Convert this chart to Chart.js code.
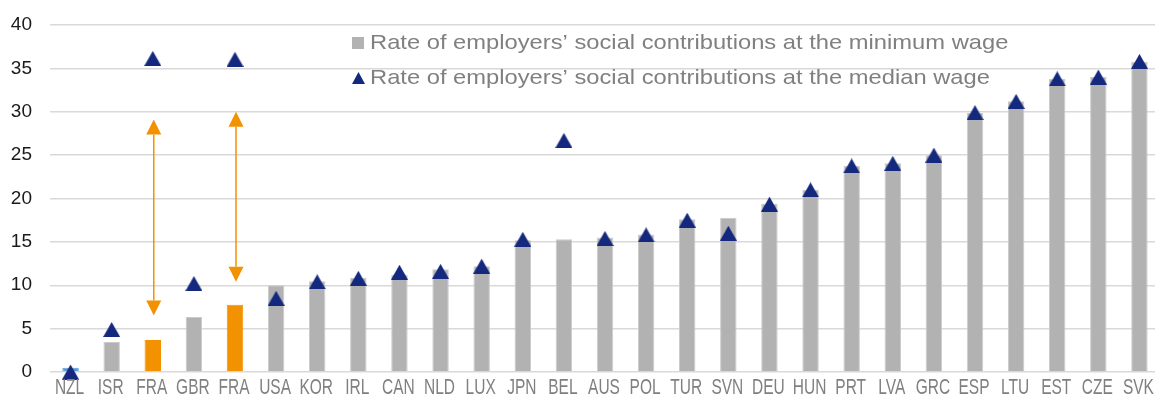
<!DOCTYPE html>
<html>
<head>
<meta charset="utf-8">
<script src="https://cdn.jsdelivr.net/npm/chart.js@4/dist/chart.umd.min.js"></script>
<style>
  html, body { margin: 0; padding: 0; background: #fff; overflow: hidden; }
  canvas { display: block; }
</style>
</head>
<body>
<canvas id="chart" width="1160" height="397"></canvas>
<script>
// Employers' social contributions, % of labour cost
const categories = ['NZL', 'ISR', 'FRA', 'GBR', 'FRA', 'USA', 'KOR', 'IRL', 'CAN', 'NLD', 'LUX', 'JPN', 'BEL', 'AUS',
  'POL', 'TUR', 'SVN', 'DEU', 'HUN', 'PRT', 'LVA', 'GRC', 'ESP', 'LTU', 'EST', 'CZE', 'SVK'];
const minWageRate = [0.5, 3.45, 3.7, 6.35, 7.75, 10.0, 10.45, 10.85, 11.2, 11.85, 12.2, 15.2, 15.3, 15.5,
  15.85, 17.6, 17.75, 19.4, 21.0, 23.75, 24.05, 25.0, 29.85, 31.2, 33.8, 34.0, 35.75];
const medianWageRate = [0, 4.9, 36.15, 10.2, 36.05, 8.5, 10.4, 10.8, 11.5, 11.6, 12.2, 15.3, 26.7, 15.4,
  15.8, 17.5, 16.0, 19.35, 21.0, 23.75, 24.05, 25.0, 29.9, 31.2, 33.8, 34.0, 35.8];
const yTicks = [0, 5, 10, 15, 20, 25, 30, 35, 40];
const legendLabels = [
  'Rate of employers\u2019 social contributions at the minimum wage',
  'Rate of employers\u2019 social contributions at the median wage',
];
// orange double arrows over the two French bars
const arrowIndex = [2, 4];
const arrowTop = [29.1, 30.0];
const arrowBottom = [6.5, 10.4];

// --- Colours ---
const GREY = '#b2b2b2';
const NAVY = '#14287e';
const ORANGE = '#f39200';
const BLUE = '#5b9bd5';

const barColors = categories.map((c, i) => (i === 0 ? BLUE : c === 'FRA' ? ORANGE : GREY));
const barBorders = categories.map((c, i) => (i === 0 ? BLUE : c === 'FRA' ? ORANGE : '#cbcbcb'));

function makeTriangle(color, w, h) {
  const c = document.createElement('canvas');
  c.width = w;
  c.height = h;
  const g = c.getContext('2d');
  g.fillStyle = color;
  g.beginPath();
  g.moveTo(w / 2, 0);
  g.lineTo(w, h);
  g.lineTo(0, h);
  g.closePath();
  g.fill();
  return c;
}
const triangle = makeTriangle(NAVY, 17, 15);

const overlay = {
  id: 'overlay',
  afterDatasetsDraw(chart) {
    const { ctx, scales: { x, y } } = chart;
    // arrows
    ctx.save();
    ctx.strokeStyle = ORANGE;
    ctx.fillStyle = ORANGE;
    ctx.lineWidth = 1.5;
    arrowIndex.forEach((idx, k) => {
      const px = x.getPixelForValue(idx) + 1;
      const top = y.getPixelForValue(arrowTop[k]);
      const bot = y.getPixelForValue(arrowBottom[k]);
      const h = 15, w = 15;
      ctx.beginPath();
      ctx.moveTo(px, top + h);
      ctx.lineTo(px, bot - h);
      ctx.stroke();
      ctx.beginPath();
      ctx.moveTo(px, top);
      ctx.lineTo(px + w / 2, top + h);
      ctx.lineTo(px - w / 2, top + h);
      ctx.closePath();
      ctx.fill();
      ctx.beginPath();
      ctx.moveTo(px, bot);
      ctx.lineTo(px + w / 2, bot - h);
      ctx.lineTo(px - w / 2, bot - h);
      ctx.closePath();
      ctx.fill();
    });
    ctx.restore();
  },
  afterDraw(chart) {
    const { ctx, scales: { x }, chartArea } = chart;
    // category labels (tall, narrow look of the original)
    ctx.save();
    ctx.fillStyle = '#808080';
    ctx.font = '15.5px "Liberation Sans", Arial, sans-serif';
    ctx.textAlign = 'center';
    ctx.textBaseline = 'top';
    categories.forEach((lab, i) => {
      ctx.save();
      ctx.translate(x.getPixelForValue(i) - 1, chartArea.bottom + 5);
      ctx.scale(1, 1.45);
      ctx.fillText(lab, 0, 0);
      ctx.restore();
    });
    ctx.restore();

    // legend inside the plot
    ctx.save();
    const lx = chartArea.left + 302;
    const rows = [chartArea.top + 18, chartArea.top + 53];
    ctx.fillStyle = GREY;
    ctx.fillRect(lx, rows[0] - 6, 12, 12);
    ctx.drawImage(makeTriangle(NAVY, 13, 12), lx, rows[1] - 6);
    ctx.fillStyle = '#808080';
    ctx.font = '21px "Liberation Sans", Arial, sans-serif';
    ctx.textBaseline = 'middle';
    legendLabels.forEach((t, i) => {
      ctx.save();
      ctx.translate(lx + 18, rows[i]);
      ctx.scale(1.13, 1);
      ctx.fillText(t, 0, 0);
      ctx.restore();
    });
    ctx.restore();
  },
};

new Chart(document.getElementById('chart'), {
  data: {
    labels: categories,
    datasets: [
      {
        type: 'line',
        label: legendLabels[1],
        data: medianWageRate,
        showLine: false,
        pointStyle: triangle,
        pointRadius: 8,
        clip: false,
        order: 0,
      },
      {
        type: 'bar',
        label: legendLabels[0],
        data: minWageRate,
        backgroundColor: barColors,
        borderColor: barBorders,
        borderWidth: 1,
        categoryPercentage: 1,
        barPercentage: 0.4,
        order: 1,
      },
    ],
  },
  plugins: [overlay],
  options: {
    responsive: false,
    animation: false,
    layout: { autoPadding: false, padding: { top: 25, left: 0, right: 0, bottom: 0 } },
    plugins: { legend: { display: false }, tooltip: { enabled: false } },
    scales: {
      x: {
        type: 'category',
        ticks: { display: false },
        grid: { display: false },
        border: { display: false },
        afterFit(scale) {
          scale.height = 25;
          scale.paddingLeft = 0;
          scale.paddingRight = 0;
        },
      },
      y: {
        min: 0,
        max: 40,
        afterBuildTicks(scale) { scale.ticks = yTicks.map((v) => ({ value: v })); },
        afterFit(scale) {
          scale.width = 50;
          scale.paddingTop = 0;
          scale.paddingBottom = 0;
        },
        ticks: {
          padding: 18,
          color: '#1a1a1a',
          font: { family: '"Liberation Sans", Arial, sans-serif', size: 19 },
        },
        grid: { color: '#d9d9d9', lineWidth: 1.5, drawTicks: false },
        border: { display: false },
      },
    },
  },
});
</script>
</body>
</html>
